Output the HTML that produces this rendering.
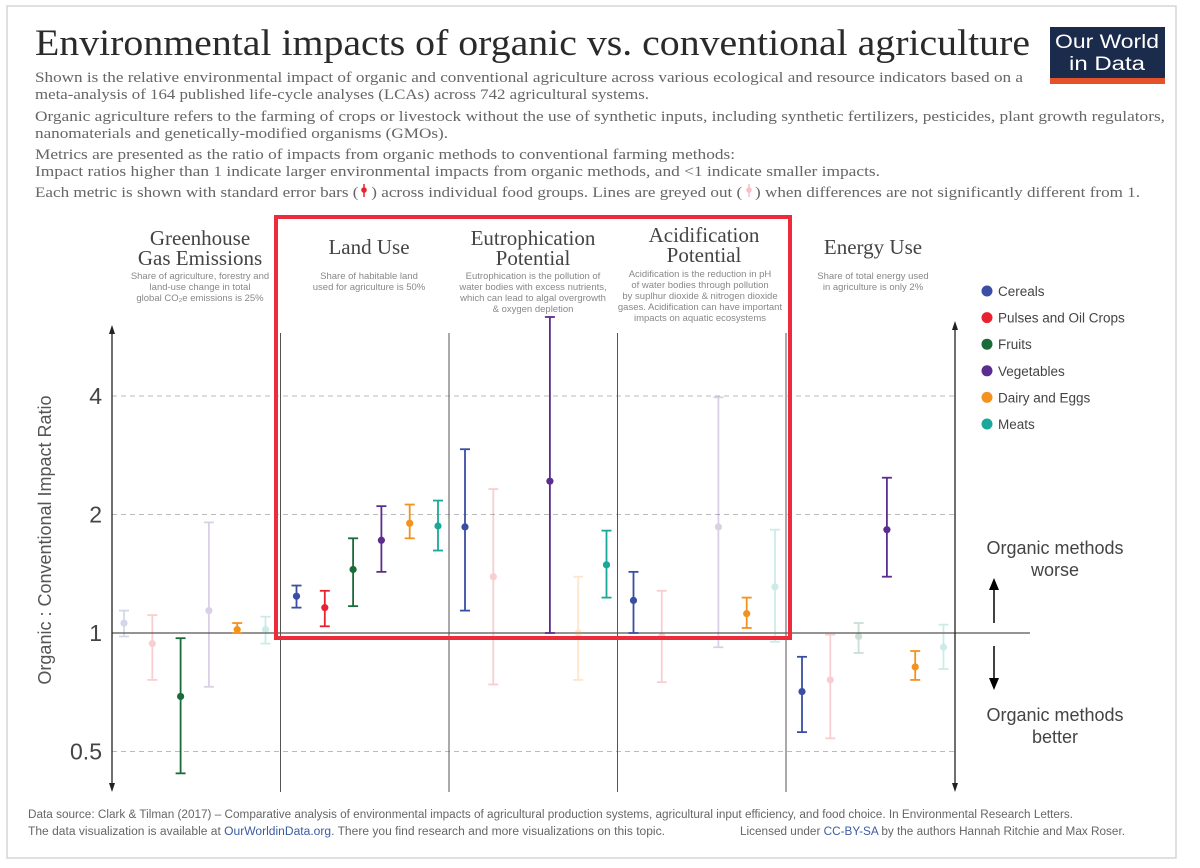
<!DOCTYPE html>
<html><head><meta charset="utf-8"><style>
html,body{margin:0;padding:0;background:#fff;}
svg{display:block;}
.serif{font-family:"Liberation Serif",serif;}
.sans{font-family:"Liberation Sans",sans-serif;}
</style></head><body>
<svg id="chart" width="1200" height="868" viewBox="0 0 1200 868" xmlns="http://www.w3.org/2000/svg">
<rect x="7" y="6" width="1169" height="852" fill="#fff" stroke="#d6d6d6" stroke-width="1.5"/>
<text class="serif" x="35" y="55" font-size="37" fill="#2a2a2a" textLength="995" lengthAdjust="spacingAndGlyphs">Environmental impacts of organic vs. conventional agriculture</text>
<g>
<rect x="1050" y="27" width="115" height="57" fill="#1a2b4c"/>
<rect x="1050" y="78" width="115" height="6" fill="#e5512a"/>
<text class="sans" x="1107" y="48" font-size="19" fill="#fff" text-anchor="middle" textLength="104" lengthAdjust="spacingAndGlyphs">Our World</text>
<text class="sans" x="1107" y="70" font-size="19" fill="#fff" text-anchor="middle" textLength="76" lengthAdjust="spacingAndGlyphs">in Data</text>
</g>
<g class="serif" font-size="15" fill="#666">
<text x="35" y="82" textLength="988" lengthAdjust="spacingAndGlyphs">Shown is the relative environmental impact of organic and conventional agriculture across various ecological and resource indicators based on a</text>
<text x="35" y="99" textLength="614" lengthAdjust="spacingAndGlyphs">meta-analysis of 164 published life-cycle analyses (LCAs) across 742 agricultural systems.</text>
<text x="35" y="121" textLength="1130" lengthAdjust="spacingAndGlyphs">Organic agriculture refers to the farming of crops or livestock without the use of synthetic inputs, including synthetic fertilizers, pesticides, plant growth regulators,</text>
<text x="35" y="138" textLength="413" lengthAdjust="spacingAndGlyphs">nanomaterials and genetically-modified organisms (GMOs).</text>
<text x="35" y="159" textLength="700" lengthAdjust="spacingAndGlyphs">Metrics are presented as the ratio of impacts from organic methods to conventional farming methods:</text>
<text x="35" y="176" textLength="845" lengthAdjust="spacingAndGlyphs">Impact ratios higher than 1 indicate larger environmental impacts from organic methods, and &lt;1 indicate smaller impacts.</text>
<text x="35" y="197" textLength="1105" lengthAdjust="spacingAndGlyphs">Each metric is shown with standard error bars (&#160;&#160;&#160;) across individual food groups. Lines are greyed out (&#160;&#160;&#160;) when differences are not significantly different from 1.</text>
</g>
<g>
<line x1="364" y1="184" x2="364" y2="197" stroke="#e8232f" stroke-width="1.5"/><circle cx="364" cy="190" r="2.8" fill="#e8232f"/>
<line x1="749" y1="184" x2="749" y2="197" stroke="#f6c0c4" stroke-width="1.5"/><circle cx="749" cy="190" r="2.8" fill="#f6c0c4"/>
</g>
<g id="headings" class="serif" fill="#444" text-anchor="middle" font-size="21">
<text x="200" y="245">Greenhouse</text><text x="200" y="265">Gas Emissions</text>
<text x="369" y="254">Land Use</text>
<text x="533" y="245">Eutrophication</text><text x="533" y="265">Potential</text>
<text x="704" y="242">Acidification</text><text x="704" y="262">Potential</text>
<text x="873" y="254">Energy Use</text>
</g>
<g class="sans" fill="#888" text-anchor="middle" font-size="9.5">
<text x="200" y="279">Share of agriculture, forestry and</text><text x="200" y="290">land-use change in total</text><text x="200" y="301">global CO₂e emissions is 25%</text>
<text x="369" y="279">Share of habitable land</text><text x="369" y="290">used for agriculture is 50%</text>
<text x="533" y="279">Eutrophication is the pollution of</text><text x="533" y="290">water bodies with excess nutrients,</text><text x="533" y="301">which can lead to algal overgrowth</text><text x="533" y="312">&amp; oxygen depletion</text>
<text x="700" y="277">Acidification is the reduction in pH</text><text x="700" y="288">of water bodies through pollution</text><text x="700" y="299">by suplhur dioxide &amp; nitrogen dioxide</text><text x="700" y="310">gases. Acidification can have important</text><text x="700" y="321">impacts on aquatic ecosystems</text>
<text x="873" y="279">Share of total energy used</text><text x="873" y="290">in agriculture is only 2%</text>
</g>
<g id="grid"></g>
<g id="marks"></g>
<rect x="276" y="217" width="514" height="421" fill="none" stroke="#ec2b3b" stroke-width="4"/>
<text class="sans" transform="translate(51,540) rotate(-90)" text-anchor="middle" font-size="18" fill="#555">Organic : Conventional Impact Ratio</text>
<g class="sans" font-size="18" fill="#444" text-anchor="middle">
<text x="1055" y="554">Organic methods</text><text x="1055" y="576">worse</text>
<text x="1055" y="721">Organic methods</text><text x="1055" y="743">better</text>
<line x1="994" y1="623" x2="994" y2="586" stroke="#000" stroke-width="1.5"/><path d="M989,590 L994,578 L999,590 Z" fill="#000"/>
<line x1="994" y1="646" x2="994" y2="682" stroke="#000" stroke-width="1.5"/><path d="M989,678 L994,690 L999,678 Z" fill="#000"/>
</g>
<g id="legend" class="sans" font-size="13.5" fill="#444"></g>
<g class="sans" font-size="11.5" fill="#666">
<text x="28" y="818" textLength="1045" lengthAdjust="spacingAndGlyphs">Data source: Clark &amp; Tilman (2017) – Comparative analysis of environmental impacts of agricultural production systems, agricultural input efficiency, and food choice.  In Environmental Research Letters.</text>
<text x="28" y="835" textLength="637" lengthAdjust="spacingAndGlyphs">The data visualization is available at <tspan fill="#3b5ba5">OurWorldinData.org</tspan>. There you find research and more visualizations on this topic.</text>
<text x="740" y="835" textLength="385" lengthAdjust="spacingAndGlyphs">Licensed under <tspan fill="#3b5ba5">CC-BY-SA</tspan> by the authors Hannah Ritchie and Max Roser.</text>
</g>
</svg>
<script>
const panels = ["Greenhouse Gas Emissions","Land Use","Eutrophication Potential","Acidification Potential","Energy Use"];
const groups = ["Cereals","Pulses and Oil Crops","Fruits","Vegetables","Dairy and Eggs","Meats"];
const groupColors = ["#3a4fa3","#e8232f","#1a6b3a","#5b2d8e","#f4921f","#1aa89a"];
// values per panel, per group (null = no data)
const ghgValue  = [1.06, 0.94, 0.69, 1.14, 1.02, 1.02];
const ghgLow    = [0.98, 0.76, 0.44, 0.73, 1.00, 0.94];
const ghgHigh   = [1.14, 1.11, 0.97, 1.91, 1.06, 1.10];
const ghgSig    = [false,false,true,false,true,false];
const landValue = [1.24, 1.16, 1.45, 1.72, 1.90, 1.87];
const landLow   = [1.16, 1.04, 1.17, 1.43, 1.74, 1.62];
const landHigh  = [1.32, 1.28, 1.74, 2.10, 2.12, 2.17];
const landSig   = [true,true,true,true,true,true];
const eutValue  = [1.86, 1.39, null, 2.43, 1.00, 1.49];
const eutLow    = [1.14, 0.74, null, 1.00, 0.76, 1.23];
const eutHigh   = [2.93, 2.32, null, 6.35, 1.39, 1.82];
const eutSig    = [true,false,false,true,false,true];
const acidValue = [1.21, 0.98, null, 1.86, 1.12, 1.31];
const acidLow   = [1.00, 0.75, null, 0.92, 1.03, 0.95];
const acidHigh  = [1.43, 1.28, null, 3.97, 1.23, 1.83];
const acidSig   = [true,false,false,false,true,false];
const enValue   = [0.71, 0.76, 0.98, 1.83, 0.82, 0.92];
const enLow     = [0.56, 0.54, 0.89, 1.39, 0.76, 0.81];
const enHigh    = [0.87, 0.99, 1.06, 2.48, 0.90, 1.05];
const enSig     = [true,false,false,true,true,false];
const yTicks = [0.5, 1, 2, 4];
const yTickLabels = ["0.5","1","2","4"];

const allValue=[ghgValue,landValue,eutValue,acidValue,enValue];
const allLow=[ghgLow,landLow,eutLow,acidLow,enLow];
const allHigh=[ghgHigh,landHigh,eutHigh,acidHigh,enHigh];
const allSig=[ghgSig,landSig,eutSig,acidSig,enSig];

const NS="http://www.w3.org/2000/svg";
const y = v => 633 - 118.5*Math.log2(v);
const panelLeft = i => 112 + i*168.5;
const x = (p,g) => panelLeft(p) + (p===0?12:16) + g*28.3;
function mk(tag, attrs, parent){const e=document.createElementNS(NS,tag);for(const k in attrs)e.setAttribute(k,attrs[k]);parent.appendChild(e);return e;}

const grid=document.getElementById('grid');
yTicks.forEach((t,i)=>{
  if(t!==1){
    const l=mk('line',{x1:112,x2:955,y1:y(t),y2:y(t),stroke:'#bbb','stroke-dasharray':'5,4','stroke-width':1},grid);
    
    
  }
  const tx=mk('text',{x:102,y:y(t)+8,'text-anchor':'end','font-size':23,fill:'#444','font-family':'Liberation Sans, sans-serif'},grid);
  tx.textContent=yTickLabels[i];
  
  
});
const base=mk('line',{x1:112,x2:1030,y1:y(1),y2:y(1),stroke:'#555','stroke-width':1.3},grid);


for(let i=1;i<5;i++){
  const sx=panelLeft(i);
  const s=mk('line',{x1:sx,x2:sx,y1:333,y2:792,stroke:'#555','stroke-width':1},grid);
  
  
}
const ax=mk('line',{x1:112,x2:112,y1:332,y2:785,stroke:'#222','stroke-width':1.3},grid);


mk('path',{d:'M109,334 L112,325 L115,334 Z',fill:'#222'},grid);
mk('path',{d:'M109,783 L112,792 L115,783 Z',fill:'#222'},grid);
const ax2=mk('line',{x1:955,x2:955,y1:328,y2:785,stroke:'#222','stroke-width':1.3},grid);


mk('path',{d:'M952,330 L955,321 L958,330 Z',fill:'#222'},grid);
mk('path',{d:'M952,783 L955,792 L958,783 Z',fill:'#222'},grid);

const marks=document.getElementById('marks');
for(let p=0;p<5;p++){
  for(let g=0;g<6;g++){
    const v=allValue[p][g]; if(v===null) continue;
    const cx=x(p,g), sig=allSig[p][g];
    const grp=mk('g',{opacity: sig?1:0.22},marks);
    
    
    const c=groupColors[g], lo=y(allLow[p][g]), hi=y(allHigh[p][g]);
    mk('line',{x1:cx,x2:cx,y1:hi,y2:lo,stroke:c,'stroke-width':1.8},grp);
    mk('line',{x1:cx-5,x2:cx+5,y1:hi,y2:hi,stroke:c,'stroke-width':1.8},grp);
    mk('line',{x1:cx-5,x2:cx+5,y1:lo,y2:lo,stroke:c,'stroke-width':1.8},grp);
    mk('circle',{cx:cx,cy:y(v),r:3.6,fill:c},grp);
  }
}
const legend=document.getElementById('legend');
groups.forEach((name,i)=>{
  const ly=291+i*26.6;
  const item=mk('g',{},legend);
  
  
  mk('circle',{cx:987,cy:ly,r:5.5,fill:groupColors[i]},item);
  const t=mk('text',{x:998,y:ly+5},item);
  t.textContent=name;
});
</script>
</body></html>
